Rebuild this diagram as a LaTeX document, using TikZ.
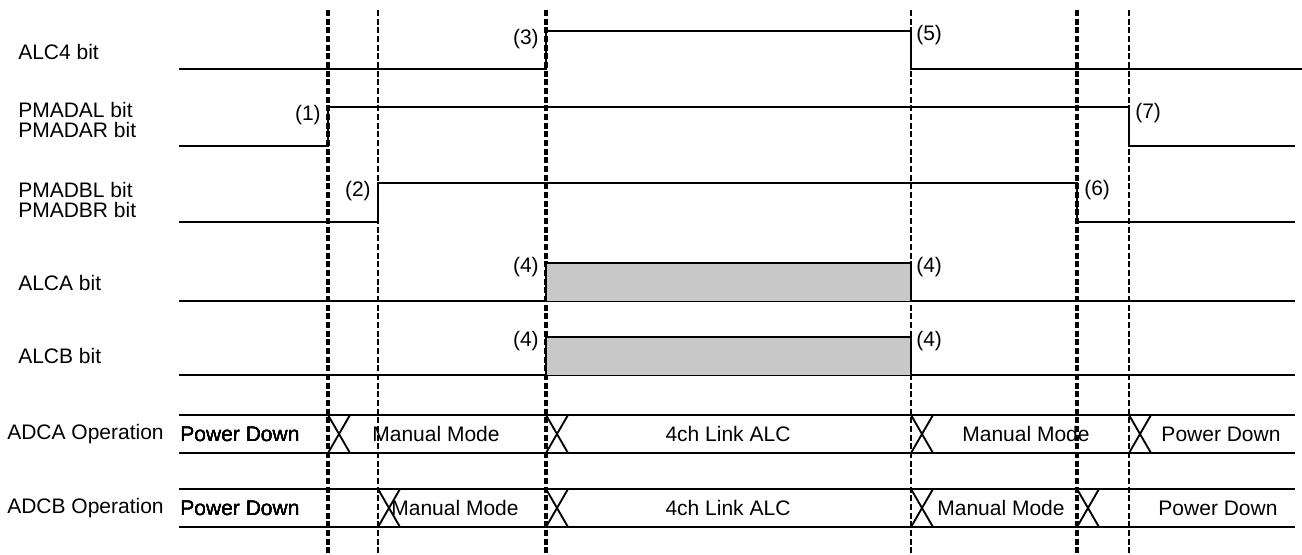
\documentclass[tikz,border=0pt]{standalone}
\usepackage{fontspec}
\setmainfont{Liberation Sans}
\tikzset{
  sig/.style = {line width=1.4pt},
  guide/.style = {line width=2.5pt, dash pattern=on 4.5pt off 2pt},
  guidethin/.style = {line width=1.6pt, dash pattern=on 4.5pt off 2pt},
  active/.style = {sig, fill={rgb,255:red,200;green,200;blue,200}},
  rowlabel/.style = {anchor=west, inner sep=0pt},
  evtag/.style = {inner sep=0pt},
  state/.style = {inner sep=0pt}
}
% bus transition: x, top, bottom
\newcommand{\buscross}[3]{\draw[sig] (#1,#2) -- (#1+22,#3) (#1,#3) -- (#1+22,#2);}

\begin{document}
\begin{tikzpicture}[x=0.75pt, y=-0.75pt, font=\fontsize{15.75}{18}\selectfont]
\useasboundingbox (0,0) rectangle (1302,554);

% timing guides
\foreach \x in {328, 546, 1077}
  \draw[guide] (\x,10) -- (\x,554);
\foreach \x in {378, 911, 1129}
  \draw[guidethin] (\x,10) -- (\x,554);

% row names
\node[rowlabel] (alc4)  at (18,52)  {ALC4 bit};
\node[rowlabel] (pmadal) at (18,110) {PMADAL bit};
\node[rowlabel] (pmadar) at (18,130) {PMADAR bit};
\node[rowlabel] (pmadbl) at (18,190) {PMADBL bit};
\node[rowlabel] (pmadbr) at (18,210) {PMADBR bit};
\node[rowlabel] (alca)  at (18,283) {ALCA bit};
\node[rowlabel] (alcb)  at (18,356) {ALCB bit};
\node[rowlabel] (adca)  at (7,434)  {ADCA Operation};
\node[rowlabel] (adcb)  at (7,508)  {ADCB Operation};

% bit waveforms
\draw[sig] (179,69) -- (546,69) -- (546,31) -- (911,31) -- (911,69) -- (1302,69);
\draw[sig] (179,146) -- (328,146) -- (328,107) -- (1129,107) -- (1129,146) -- (1295,146);
\draw[sig] (179,222) -- (378,222) -- (378,183) -- (1077,183) -- (1077,222) -- (1295,222);
\draw[sig] (179,301) -- (1295,301);
\draw[active] (546,301) -- (546,263) -- (911,263) -- (911,301);
\draw[sig] (179,375) -- (1295,375);
\draw[active] (546,375) -- (546,337) -- (911,337) -- (911,375);

% event numbers
\node[evtag, anchor=east] (e1) at (321,115) {(1)};
\node[evtag, anchor=east] (e2) at (371,191) {(2)};
\node[evtag, anchor=east] (e3) at (539,39)  {(3)};
\node[evtag, anchor=east] (e4a) at (539,267) {(4)};
\node[evtag, anchor=west] (e4b) at (916,267) {(4)};
\node[evtag, anchor=east] (e4c) at (539,341) {(4)};
\node[evtag, anchor=west] (e4d) at (916,341) {(4)};
\node[evtag, anchor=west] (e5) at (916,35)  {(5)};
\node[evtag, anchor=west] (e6) at (1084,190) {(6)};
\node[evtag, anchor=west] (e7) at (1135,113) {(7)};

% ADCA bus
\draw[sig] (179,415) -- (1295,415) (179,453) -- (1295,453);
\foreach \x in {328, 546, 911, 1129}
  \buscross{\x}{415}{453}
\node[state] (a1) at (240,434)  {Power Down};
\node[state] (a2) at (436,434)  {Manual Mode};
\node[state] (a3) at (728,434)  {4ch Link ALC};
\node[state] (a4) at (1026,434) {Manual Mode};
\node[state] (a5) at (1221,434) {Power Down};

% ADCB bus
\draw[sig] (179,489) -- (1295,489) (179,527) -- (1295,527);
\foreach \x in {378, 546, 911, 1077}
  \buscross{\x}{489}{527}
\node[state] (b1) at (240,508)  {Power Down};
\node[state] (b2) at (455,508)  {Manual Mode};
\node[state] (b3) at (728,508)  {4ch Link ALC};
\node[state] (b4) at (1001,508) {Manual Mode};
\node[state] (b5) at (1218,508) {Power Down};

\end{tikzpicture}
\end{document}
